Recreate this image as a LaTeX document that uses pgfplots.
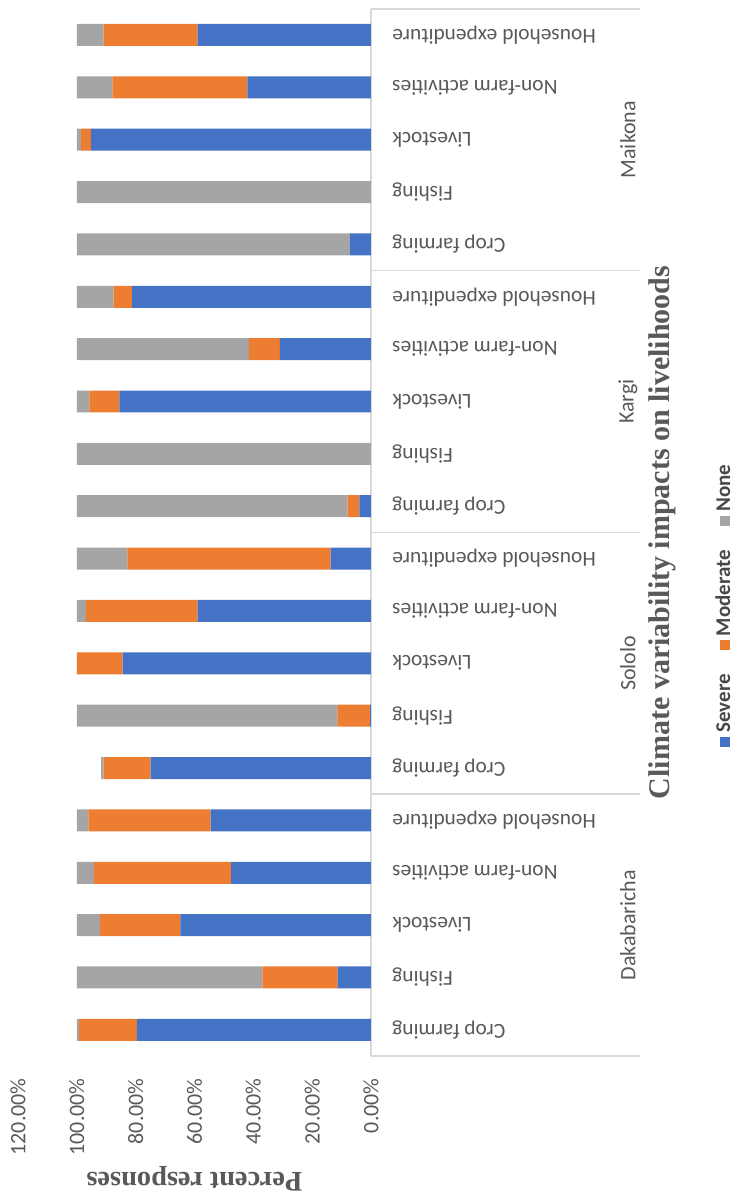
\documentclass[border=0pt]{standalone}
\usepackage{pgfplots}
\pgfplotsset{compat=1.18}
\usepackage{pgfplotstable}
\usepackage{fontspec}
\setmainfont{Liberation Serif}
\newfontfamily\carlito{Carlito}
\definecolor{sev}{HTML}{4472C4}
\definecolor{mod}{HTML}{ED7D31}
\definecolor{non}{HTML}{A5A5A5}
\definecolor{txt}{HTML}{595959}
\definecolor{axl}{HTML}{D9D9D9}

\pgfplotstableread{
y sev mod non
0 79.6 19.6 0.8
1 11.3 25.6 63.1
2 64.8 27.4 7.8
3 47.5 46.7 5.8
4 54.5 41.6 3.9
5 74.9 16.0 0.8
6 0.3 11.1 88.6
7 84.4 15.6 0
8 58.9 38.0 3.1
9 13.7 69.1 17.2
10 3.9 4.0 92.1
11 0 0 100
12 85.5 10.2 4.3
13 31.0 10.5 58.5
14 81.2 6.3 12.5
15 7.1 0 92.9
16 0 0 100
17 95.2 3.3 1.5
18 42.0 45.9 12.1
19 58.9 32.0 9.1
}\data

\begin{document}
\begin{tikzpicture}
\begin{axis}[
  scale only axis, width=176.5pt, height=523.7pt,
  xbar stacked, bar width=0.42,
  x dir=reverse, xmin=0, xmax=120, ymin=-0.5, ymax=19.5,
  enlargelimits=false, clip=false,
  axis line style={draw=none}, major tick length=0pt,
  xtick={0,20,...,120},
  xticklabels={0.00\%,20.00\%,40.00\%,60.00\%,80.00\%,100.00\%,120.00\%},
  xticklabel style={font=\carlito\fontsize{11}{13}\selectfont, text=txt, inner sep=0pt, yshift=-11pt, rotate=90, anchor=east},
  ytick={0,...,19},
  yticklabel pos=right,
  yticklabels={Crop farming,Fishing,Livestock,Non-farm activities,Household expenditure,
               Crop farming,Fishing,Livestock,Non-farm activities,Household expenditure,
               Crop farming,Fishing,Livestock,Non-farm activities,Household expenditure,
               Crop farming,Fishing,Livestock,Non-farm activities,Household expenditure},
  yticklabel style={font=\carlito\fontsize{10.7}{12}\selectfont, text=txt, inner sep=0pt, xshift=10.5pt, rotate=180, anchor=east},
]
\addplot[fill=sev, draw=none] table[x=sev, y=y]{\data};
\addplot[fill=mod, draw=none] table[x=mod, y=y]{\data};
\addplot[fill=non, draw=none] table[x=non, y=y]{\data};

\draw[axl, line width=0.8pt] (axis cs:0,-0.5) -- (axis cs:0,19.5);
\draw[axl, line width=0.8pt] (axis cs:0,-0.5) -- ([xshift=134.5pt]axis cs:0,-0.5);
\draw[axl, line width=0.8pt] (axis cs:0,4.5) -- ([xshift=134.5pt]axis cs:0,4.5);
\draw[axl, line width=0.8pt] (axis cs:0,9.5) -- ([xshift=134.5pt]axis cs:0,9.5);
\draw[axl, line width=0.8pt] (axis cs:0,14.5) -- ([xshift=134.5pt]axis cs:0,14.5);
\draw[axl, line width=0.8pt] (axis cs:0,19.5) -- ([xshift=134.5pt]axis cs:0,19.5);
\node[font=\carlito\fontsize{11}{13}\selectfont, text=txt, xshift=128.5pt, rotate=90] at (axis cs:0,2) {Dakabaricha};
\node[font=\carlito\fontsize{11}{13}\selectfont, text=txt, xshift=128.5pt, rotate=90] at (axis cs:0,7) {Sololo};
\node[font=\carlito\fontsize{11}{13}\selectfont, text=txt, xshift=128.5pt, rotate=90] at (axis cs:0,12) {Kargi};
\node[font=\carlito\fontsize{11}{13}\selectfont, text=txt, xshift=128.5pt, rotate=90] at (axis cs:0,17) {Maikona};
\node[font=\bfseries\fontsize{15}{18}\selectfont, text=txt, xshift=145.5pt, rotate=90] at (axis cs:0,9.5) {Climate variability impacts on livelihoods};
\node[font=\bfseries\fontsize{14.2}{17}\selectfont, text=txt, inner sep=0pt, yshift=-61.5pt, rotate=180] at (rel axis cs:0.5,0) {Percent responses};
\node[font=\carlito\bfseries\fontsize{10.5}{12}\selectfont, text=txt!80!black, inner sep=0pt, xshift=176pt, rotate=90] at (axis cs:0,8.1)
  {{\color{sev}\rule{5pt}{5pt}}\hspace{2pt}Severe\hspace{12pt}{\color{mod}\rule{5pt}{5pt}}\hspace{2pt}Moderate\hspace{12pt}{\color{non}\rule{5pt}{5pt}}\hspace{2pt}None};
\end{axis}
\pgfresetboundingbox
\useasboundingbox ([xshift=-9pt,yshift=-69pt]current axis.south west) rectangle ([xshift=181.5pt,yshift=4.4pt]current axis.north east);
\end{tikzpicture}
\end{document}
